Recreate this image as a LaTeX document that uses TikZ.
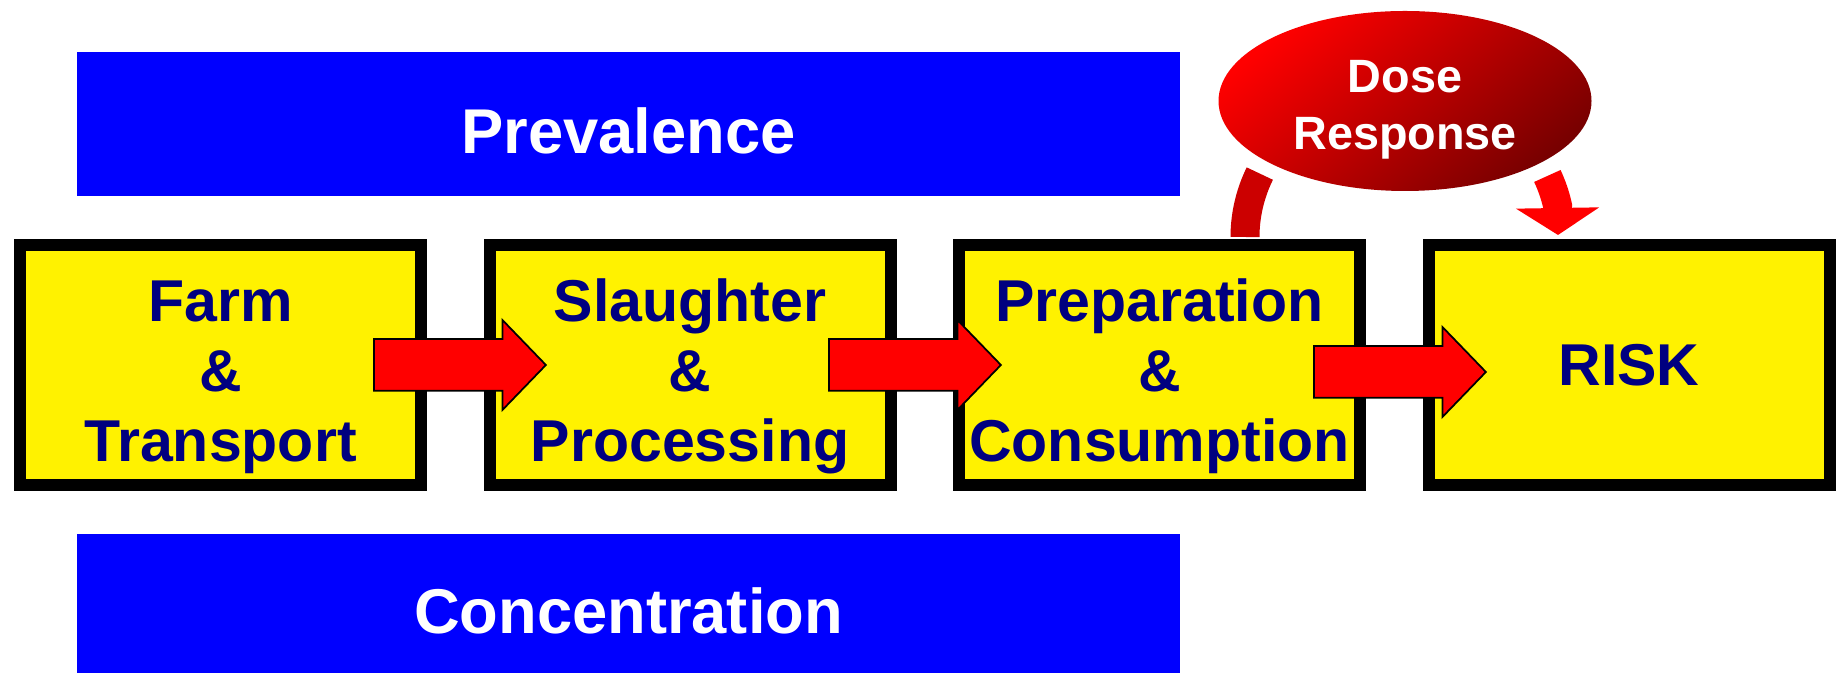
\documentclass[tikz,border=0pt]{standalone}
\usepackage{fontspec}
\setmainfont{Liberation Sans}
\usetikzlibrary{positioning,shapes.geometric,shapes.arrows,arrows.meta}
\definecolor{navytext}{RGB}{0,0,128}
\definecolor{darkstub}{RGB}{204,0,0}
\definecolor{maroonend}{RGB}{120,0,0}
\newcommand\toppad[1]{\rule{0pt}{#1}}
\tikzset{
  bar/.style={fill=blue, minimum width=11.03cm, minimum height=1.44cm, inner sep=0pt,
    text=white, font=\fontsize{18}{21}\selectfont\bfseries},
  stage/.style={draw=black, line width=1.2mm, fill=yellow, minimum width=4.01cm,
    minimum height=2.40cm, inner sep=0pt, align=center, text=navytext,
    font=\fontsize{16.8}{19.9}\selectfont\bfseries},
  flow/.style={single arrow, draw=black, line width=0.5pt, fill=red, minimum height=1.72cm,
    inner xsep=0pt, inner ysep=0.25cm, single arrow head extend=0.19cm,
    single arrow tip angle=92, anchor=tail},
  dose/.style={ellipse, minimum width=3.73cm, minimum height=1.80cm, inner sep=0pt,
    left color=red, right color=maroonend, shading angle=40, align=center, text=white,
    font=\fontsize{13.3}{16}\selectfont\bfseries}
}
\begin{document}
\begin{tikzpicture}
  \useasboundingbox (0,0) rectangle (18.36,6.73);
  \node[bar] (prev) at (6.285,5.485) {\toppad{16.5pt}Prevalence};
  \node[bar] (conc) at (6.285,0.67) {\toppad{15.8pt}Concentration};
  \node[stage] (farm) at (2.205,3.08) {\toppad{18.7pt}Farm\\\&\\Transport};
  \node[stage, right=0.565cm of farm] (slaughter) {\toppad{18.7pt}Slaughter\\\&\\Processing};
  \node[stage, right=0.565cm of slaughter] (prep) {\toppad{18.7pt}Preparation\\\&\\Consumption};
  \node[stage, right=0.565cm of prep] (risk) {RISK};
  \node[flow] (f1) at ([xshift=-5.4mm]farm.east) {}; % farm--slaughter
  \node[flow] (f2) at ([xshift=-6.85mm]slaughter.east) {}; % slaughter--prep
  \node[flow] (f3) at ([xshift=-5.3mm,yshift=-0.7mm]prep.east) {}; % prep--risk
  \node[dose] (dose) at (14.05,5.72) {\toppad{14.1pt}Dose\\Response};
  \coordinate (hub) at ([xshift=-0.2mm,yshift=-13.6mm]dose.center);
  \coordinate (tip) at ([xshift=15.5mm,yshift=0.2mm]hub);
  \draw[darkstub, line width=2.9mm] (hub) ++(180:1.58 and 1.50)
    arc[start angle=180, end angle=155, x radius=1.58, y radius=1.50]; % prep--dose
  \draw[red, line width=2.9mm, -{Triangle[width=8.2mm,length=2.7mm]}] (hub) ++(24:1.58 and 1.50)
    arc[start angle=24, end angle=12, x radius=1.58, y radius=1.50] -- (tip); % dose--risk
\end{tikzpicture}
\end{document}
